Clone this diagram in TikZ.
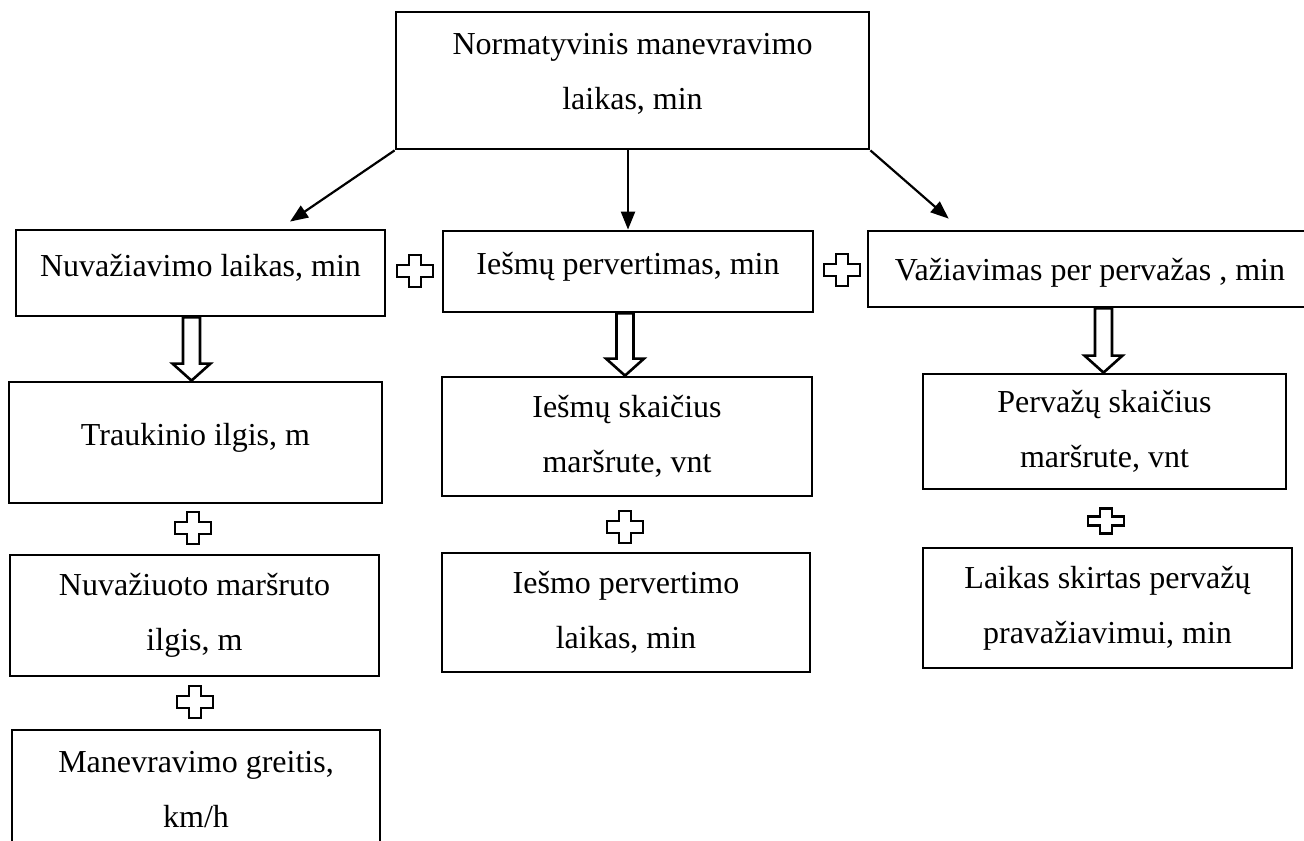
\documentclass[tikz,border=0pt]{standalone}
\usepackage{fontspec}
\setmainfont{Liberation Serif}
\usetikzlibrary{arrows.meta,calc}
\tikzset{
  x=0.5pt, y=-0.5pt,
  box/.style={draw, line width=1.4pt, inner sep=0pt, align=center,
    font=\fontsize{16pt}{27.5pt}\selectfont},
  onel/.style={text height=11pt, text depth=8pt},
  arr/.style={line width=1.1pt, -{Triangle[length=9pt,width=7pt]}},
  hollowarr/.style={draw, line width=1.3pt, fill=white, line join=miter},
  plusline/.style={draw, line width=1.4pt, fill=white},
  plussign/.pic={
    \path[plusline] (-6,-16) -- (6,-16) -- (6,-6) -- (18,-6) -- (18,6) -- (6,6)
      -- (6,16) -- (-6,16) -- (-6,6) -- (-18,6) -- (-18,-6) -- (-6,-6) -- cycle;
  }
}
\newcommand\hollowArrowDraw[3]{%
  \path[hollowarr] let \p1=(#3,0), \p2=(#1.south), \p3=(#2.north) in
    (\x1-4.25pt,\y2) -- (\x1-4.25pt,\y3+8.5pt) -- (\x1-9.5pt,\y3+8.5pt)
    -- (\x1,\y3) -- (\x1+9.5pt,\y3+8.5pt) -- (\x1+4.25pt,\y3+8.5pt)
    -- (\x1+4.25pt,\y2) -- cycle;}
\begin{document}
\begin{tikzpicture}
\useasboundingbox (0,0) rectangle (1304,840);
\fill[white] (0,0) rectangle (1304,840);
\clip (0,0) rectangle (1304,840);

% top
\node[box, minimum width=236.5pt, minimum height=68.5pt] (top) at (632.5,80.5)
  {Normatyvinis manevravimo\\laikas, min\rule[-9pt]{0pt}{0pt}};

% second row
\node[box, onel, minimum width=184.5pt, minimum height=43pt] (n1) at (200.5,273)
  {Nuvažiavimo laikas, min};
\node[box, onel, minimum width=185pt, minimum height=40.5pt] (n2) at (628,271.5)
  {Iešmų pervertimas, min};
\node[box, text height=11pt, text depth=0pt, minimum width=222pt, minimum height=38pt] (n3) at (1090,269)
  {Važiavimas per pervažas , min};

% column 1
\node[box, onel, minimum width=186.5pt, minimum height=60.5pt] (t1) at (195.5,442.5)
  {Traukinio ilgis, m};
\node[box, minimum width=184.5pt, minimum height=60.5pt] (t2) at (194.5,615.5)
  {Nuvažiuoto maršruto\\ilgis, m};
\node[box, minimum width=184pt, minimum height=60pt] (t3) at (196,790)
  {Manevravimo greitis,\\km/h};

% column 2
\node[box, minimum width=185pt, minimum height=59.5pt] (m1) at (627,436.5)
  {Iešmų skaičius\\maršrute, vnt};
\node[box, minimum width=184pt, minimum height=59.5pt] (m2) at (626,612.5)
  {Iešmo pervertimo\\laikas, min};

% column 3
\node[box, minimum width=181.5pt, minimum height=57.5pt] (r1) at (1104.5,431.5)
  {Pervažų skaičius\\maršrute, vnt};
\node[box, minimum width=184.5pt, minimum height=60pt] (r2) at (1107.5,608)
  {Laikas skirtas pervažų\\pravažiavimui, min};

% thin arrows
\draw[arr] (top.south west) -- ($(n1.north)+(89.5,-7)$);
\draw[arr] (top.south -| n2.north) -- (n2.north);
\draw[arr] (top.south east) -- ($(n3.north west)+(82,-11)$);

% hollow arrows
\hollowArrowDraw{n1}{t1}{191.5}
\hollowArrowDraw{n2}{m1}{625}
\hollowArrowDraw{n3}{r1}{1103.5}

% plus signs
\pic (p1) at (415,271) {plussign};
\pic (p2) at (842,270) {plussign};
\pic (p3) at (193,528) {plussign};
\pic (p4) at (625,527) {plussign};
\pic[yscale=0.8] (p5) at (1106,521) {plussign};
\pic (p6) at (195,702) {plussign};
\end{tikzpicture}
\end{document}
